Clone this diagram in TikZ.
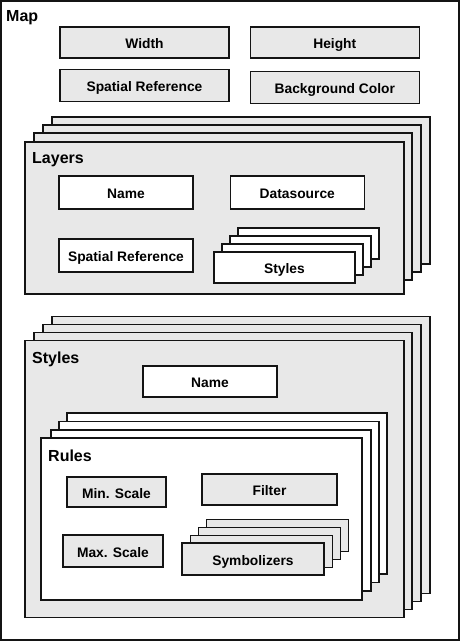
\documentclass[tikz,border=0pt]{standalone}
\usepackage{fontspec}
\setmainfont{Liberation Sans}
\usetikzlibrary{positioning}
\definecolor{mapgrey}{RGB}{232, 232, 232}
\definecolor{mapline}{RGB}{20, 20, 20}

\begin{document}
\begin{tikzpicture}[x=1pt, y=-1pt,
        greybox/.style={rectangle, draw=mapline, fill=mapgrey, line width=1.3pt, inner sep=0pt, text height=12pt, text depth=0pt, font=\bfseries\fontsize{13.8}{16}\selectfont},
        whitebox/.style={greybox, fill=white},
        title/.style={inner sep=0pt, anchor=base west, font=\bfseries\fontsize{16}{19}\selectfont},
        field/.style={minimum width=134pt, minimum height=32pt}
    ]
        \useasboundingbox (0,0) rectangle (461,642);

        % Cadre de la carte
        \node[whitebox, line width=2pt, minimum width=458pt, minimum height=639pt] (map) at (230,320.5) {};
        \node[title] (maptitle) at (6,22) {Map};

        % Attributs de la carte
        \node[greybox, minimum width=169pt, minimum height=31pt] (width) at (144.5,42.5) {Width};
        \node[greybox, minimum width=169pt, minimum height=31pt, right=20pt of width] (height) {Height};
        \node[greybox, minimum width=169pt, minimum height=32pt, below=10pt of width] (mapsrs) {Spatial Reference};
        \node[greybox, minimum width=169pt, minimum height=32pt, below=12pt of height] (bgcolor) {Background Color};

        % Pile des couches
        \node[greybox, minimum width=378pt, minimum height=147pt] (layer3) at (241,190.5) {};
        \node[greybox, minimum width=378pt, minimum height=147pt] (layer2) at (232,198.5) {};
        \node[greybox, minimum width=378pt, minimum height=147pt] (layer1) at (223,206.5) {};
        \node[greybox, minimum width=379pt, minimum height=152pt] (layers) at (214.5,218) {};
        \node[title] (layerstitle) at (32,163) {Layers};

        % Attributs d'une couche
        \node[whitebox, field, minimum height=33pt] (lname) at (126,192.5) {Name};
        \node[whitebox, field, minimum height=33pt, right=36pt of lname] (lsource) {Datasource};
        \node[whitebox, field, minimum height=33pt] (lsrs) at (126,255.5) {Spatial Reference};
        \node[whitebox, minimum width=141pt, minimum height=31pt] (lstyle3) at (308.5,243.5) {};
        \node[whitebox, minimum width=141pt, minimum height=31pt] (lstyle2) at (300.5,251.5) {};
        \node[whitebox, minimum width=141pt, minimum height=31pt] (lstyle1) at (292.5,259.5) {};
        \node[whitebox, minimum width=141pt, minimum height=31pt] (lstyles) at (284.5,267.5) {Styles};

        % Pile des styles
        \node[greybox, minimum width=378pt, minimum height=277pt] (style3) at (241,455) {};
        \node[greybox, minimum width=378pt, minimum height=277pt] (style2) at (232,463) {};
        \node[greybox, minimum width=378pt, minimum height=277pt] (style1) at (223,471) {};
        \node[greybox, minimum width=379pt, minimum height=277pt] (styles) at (214.5,479) {};
        \node[title] (stylestitle) at (32,363) {Styles};
        \node[whitebox, field, minimum height=31pt] (sname) at (210,381.5) {Name};

        % Pile des regles
        \node[whitebox, minimum width=320pt, minimum height=161pt] (rule3) at (227,493.5) {};
        \node[whitebox, minimum width=320pt, minimum height=161pt] (rule2) at (219,502) {};
        \node[whitebox, minimum width=320pt, minimum height=161pt] (rule1) at (211,510.5) {};
        \node[whitebox, minimum width=321pt, minimum height=162pt] (rules) at (201.5,519) {};
        \node[title] (rulestitle) at (48,461) {Rules};

        % Attributs d'une regle
        \node[greybox, minimum width=99pt, minimum height=30pt] (minscale) at (116.5,492) {Min. Scale};
        \node[greybox, minimum width=135pt, minimum height=31pt] (filter) at (269.5,489.5) {Filter};
        \node[greybox, minimum width=100pt, minimum height=32pt] (maxscale) at (113,551) {Max. Scale};
        \node[greybox, minimum width=142pt, minimum height=32pt] (symb3) at (277.5,535.5) {};
        \node[greybox, minimum width=142pt, minimum height=32pt] (symb2) at (269.5,543.5) {};
        \node[greybox, minimum width=142pt, minimum height=32pt] (symb1) at (261.5,551.5) {};
        \node[greybox, minimum width=142pt, minimum height=32pt] (symbolizers) at (253,559) {Symbolizers};
    \end{tikzpicture}
\end{document}
